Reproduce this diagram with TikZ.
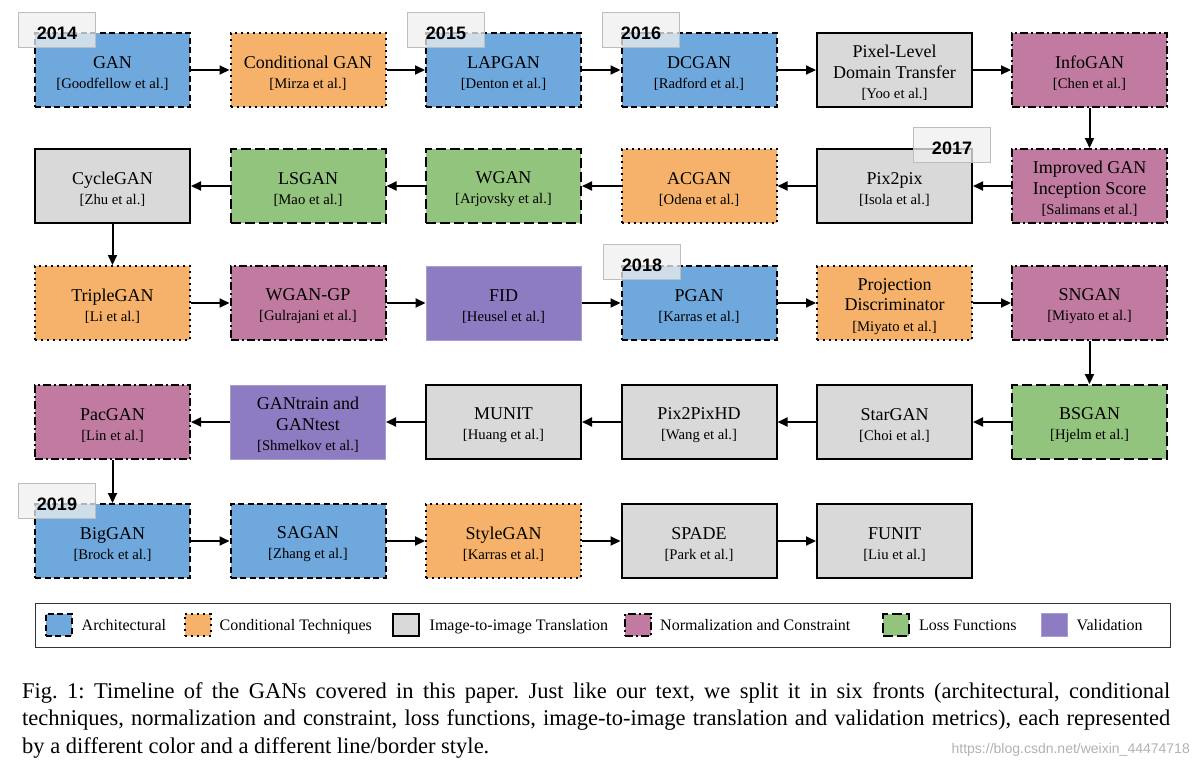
\documentclass[tikz,border=0pt]{standalone}
\usepackage{fontspec}
\setmainfont{Liberation Serif}
\newfontfamily\tagfont{Liberation Sans}
\usepackage{xcolor}
\usetikzlibrary{positioning,arrows.meta}
\definecolor{archblue}{HTML}{6FA8DC}
\definecolor{condorange}{HTML}{F6B26B}
\definecolor{imggrey}{HTML}{D9D9D9}
\definecolor{normpink}{HTML}{C27BA0}
\definecolor{lossgreen}{HTML}{93C47D}
\definecolor{validpurple}{HTML}{8E7CC3}
\definecolor{tagfill}{HTML}{EFEFEF}
\definecolor{tagdraw}{HTML}{BDBDBD}
\tikzset{
    ganbox/.style={rectangle, minimum width=155pt, minimum height=74pt, text width=151pt, align=flush center, inner sep=2pt, line width=2pt, font=\fontsize{18}{20.5}\selectfont, execute at begin node={\rule{0pt}{18.5pt}}},
    arch/.style={ganbox, draw=black, fill=archblue, dash pattern=on 6pt off 3.5pt},
    cond/.style={ganbox, draw=black, fill=condorange, dash pattern=on 2pt off 4pt},
    imgtr/.style={ganbox, draw=black, fill=imggrey},
    norm/.style={ganbox, draw=black, fill=normpink, dash pattern=on 8pt off 3pt on 2pt off 3pt},
    loss/.style={ganbox, draw=black, fill=lossgreen, dash pattern=on 10pt off 4pt},
    valid/.style={ganbox, draw=validpurple!75!white, line width=1pt, fill=validpurple},
    flow/.style={-{Triangle[length=10pt,width=9pt]}, line width=2pt},
    yeartag/.style={rectangle, draw=tagdraw, line width=1.2pt, fill=tagfill, fill opacity=0.75, text opacity=1, minimum width=77pt, minimum height=35pt, text height=18pt, text depth=0pt, font=\tagfont\bfseries\fontsize{18}{18}\selectfont},
    legkey/.style={minimum width=26pt, minimum height=21pt, text width=10pt, execute at begin node={}},
    legtext/.style={inner sep=0pt, text height=11pt, text depth=3.5pt, yshift=-2pt, font=\fontsize{16}{19}\selectfont}
}
\newcommand{\au}[1]{{\fontsize{14.7}{20.5}\selectfont[#1]}}

\begin{document}
\begin{tikzpicture}[x=1pt, y=-1pt]
    \useasboundingbox[fill=white] (0,0) rectangle (1198,769);

    % row 1
    \node[arch]  (gan)     at (112.5,70) {GAN\\\au{Goodfellow et al.}};
    \node[cond]  (cgan)    at (308,70)   {Conditional GAN\\\au{Mirza et al.}};
    \node[arch]  (lapgan)  at (503.5,70) {LAPGAN\\\au{Denton et al.}};
    \node[arch]  (dcgan)   at (699,70)   {DCGAN\\\au{Radford et al.}};
    \node[imgtr] (pldt)    at (894.5,70) {Pixel-Level\\Domain Transfer\\\au{Yoo et al.}};
    \node[norm]  (infogan) at (1089.5,70) {InfoGAN\\\au{Chen et al.}};

    % row 2
    \node[imgtr] (cyclegan) at (112.5,186) {CycleGAN\\\au{Zhu et al.}};
    \node[loss]  (lsgan)    at (308,186)   {LSGAN\\\au{Mao et al.}};
    \node[loss]  (wgan)     at (503.5,186) {WGAN\\\au{Arjovsky et al.}};
    \node[cond]  (acgan)    at (699,186)   {ACGAN\\\au{Odena et al.}};
    \node[imgtr] (pix2pix)  at (894.5,186) {Pix2pix\\\au{Isola et al.}};
    \node[norm]  (impgan)   at (1089.5,186) {Improved GAN\\Inception Score\\\au{Salimans et al.}};

    % row 3
    \node[cond]  (triplegan) at (112.5,303) {TripleGAN\\\au{Li et al.}};
    \node[norm]  (wgangp)    at (308,303)   {WGAN-GP\\\au{Gulrajani et al.}};
    \node[valid] (fid)       at (503.5,303) {FID\\\au{Heusel et al.}};
    \node[arch]  (pgan)      at (699,303)   {PGAN\\\au{Karras et al.}};
    \node[cond]  (projd)     at (894.5,303) {Projection\\Discriminator\\\au{Miyato et al.}};
    \node[norm]  (sngan)     at (1089.5,303) {SNGAN\\\au{Miyato et al.}};

    % row 4
    \node[norm]  (pacgan)    at (112.5,422) {PacGAN\\\au{Lin et al.}};
    \node[valid] (gantrain)  at (308,422)   {GANtrain and\\GANtest\\\au{Shmelkov et al.}};
    \node[imgtr] (munit)     at (503.5,422) {MUNIT\\\au{Huang et al.}};
    \node[imgtr] (pix2pixhd) at (699,422)   {Pix2PixHD\\\au{Wang et al.}};
    \node[imgtr] (stargan)   at (894.5,422) {StarGAN\\\au{Choi et al.}};
    \node[loss]  (bsgan)     at (1089.5,422) {BSGAN\\\au{Hjelm et al.}};

    % row 5
    \node[arch]  (biggan)   at (112.5,541) {BigGAN\\\au{Brock et al.}};
    \node[arch]  (sagan)    at (308,541)   {SAGAN\\\au{Zhang et al.}};
    \node[cond]  (stylegan) at (503.5,541) {StyleGAN\\\au{Karras et al.}};
    \node[imgtr] (spade)    at (699,541)   {SPADE\\\au{Park et al.}};
    \node[imgtr] (funit)    at (894.5,541) {FUNIT\\\au{Liu et al.}};

    % timeline
    \draw[flow] (gan) -- (cgan);
    \draw[flow] (cgan) -- (lapgan);
    \draw[flow] (lapgan) -- (dcgan);
    \draw[flow] (dcgan) -- (pldt);
    \draw[flow] (pldt) -- (infogan);
    \draw[flow] (infogan) -- (impgan);
    \draw[flow] (impgan) -- (pix2pix);
    \draw[flow] (pix2pix) -- (acgan);
    \draw[flow] (acgan) -- (wgan);
    \draw[flow] (wgan) -- (lsgan);
    \draw[flow] (lsgan) -- (cyclegan);
    \draw[flow] (cyclegan) -- (triplegan);
    \draw[flow] (triplegan) -- (wgangp);
    \draw[flow] (wgangp) -- (fid);
    \draw[flow] (fid) -- (pgan);
    \draw[flow] (pgan) -- (projd);
    \draw[flow] (projd) -- (sngan);
    \draw[flow] (sngan) -- (bsgan);
    \draw[flow] (bsgan) -- (stargan);
    \draw[flow] (stargan) -- (pix2pixhd);
    \draw[flow] (pix2pixhd) -- (munit);
    \draw[flow] (munit) -- (gantrain);
    \draw[flow] (gantrain) -- (pacgan);
    \draw[flow] (pacgan) -- (biggan);
    \draw[flow] (biggan) -- (sagan);
    \draw[flow] (sagan) -- (stylegan);
    \draw[flow] (stylegan) -- (spade);
    \draw[flow] (spade) -- (funit);

    % years
    \node[yeartag] (y2014) at (57,30)   {2014};
    \node[yeartag] (y2015) at (446,30)  {2015};
    \node[yeartag] (y2016) at (641,30)  {2016};
    \node[yeartag] (y2017) at (952,145) {2017};
    \node[yeartag] (y2018) at (642,262) {2018};
    \node[yeartag] (y2019) at (57,501)  {2019};

    % legend
    \draw[black!80, line width=1pt] (35,603) rectangle (1170,647);
    \node[arch, legkey]  (karch)  at (58.5,625) {};
    \node[legtext, right=9pt of karch] {Architectural};
    \node[cond, legkey]  (kcond)  at (197.5,625) {};
    \node[legtext, right=8pt of kcond] {Conditional Techniques};
    \node[imgtr, legkey] (kimgtr) at (405.5,625) {};
    \node[legtext, right=10pt of kimgtr] {Image-to-image Translation};
    \node[norm, legkey]  (knorm)  at (638,625) {};
    \node[legtext, right=8pt of knorm] {Normalization and Constraint};
    \node[loss, legkey]  (kloss)  at (896,625) {};
    \node[legtext, right=9pt of kloss] {Loss Functions};
    \node[valid, legkey] (kvalid) at (1054,625) {};
    \node[legtext, right=9pt of kvalid] {Validation};

    % caption
    \node[anchor=north west, inner sep=0pt, text width=1148pt, align=justify, font=\fontsize{22.5}{27.5}\selectfont\frenchspacing] (caption) at (22,682)
    {Fig. 1: Timeline of the GANs covered in this paper. Just like our text, we split it in six fronts (architectural, conditional\linebreak techniques, normalization and constraint, loss functions, image-to-image translation and validation metrics), each represented\linebreak by a different color and a different line/border style.};
    \node[anchor=east, inner sep=0pt, text=black!30, font=\tagfont\fontsize{14}{14}\selectfont] (mark) at (1190,750) {https://blog.csdn.net/weixin\_44474718};
\end{tikzpicture}
\end{document}
